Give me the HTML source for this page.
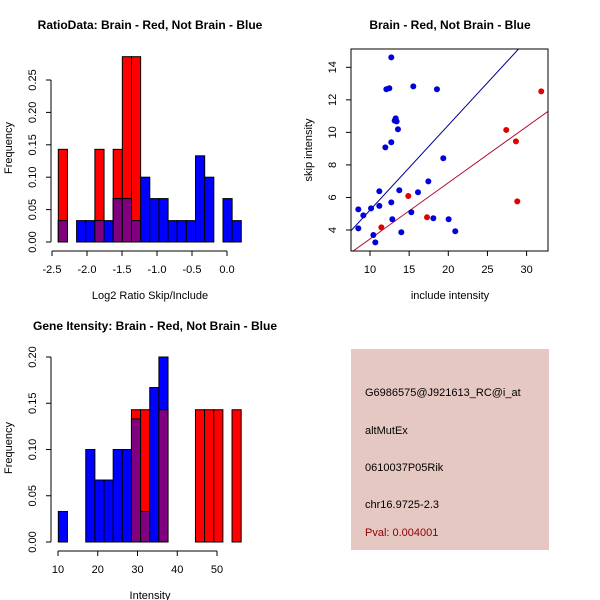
<!DOCTYPE html>
<html><head><meta charset="utf-8"><style>
body{margin:0;background:#fff;}
svg{display:block;font-family:"Liberation Sans",sans-serif;}
</style></head><body>
<svg id="c" width="600" height="600" xmlns="http://www.w3.org/2000/svg">
<rect x="0" y="0" width="600" height="600" fill="#fff"/>
<g>
<rect x="351" y="349" width="198" height="201" fill="#E6C8C2"/>
<text x="365" y="396" font-size="11" fill="#000">G6986575@J921613_RC@i_at</text>
<text x="365" y="434" font-size="11" fill="#000">altMutEx</text>
<text x="365" y="471" font-size="11" fill="#000">0610037P05Rik</text>
<text x="365" y="508" font-size="11" fill="#000">chr16.9725-2.3</text>
<text x="365" y="536" font-size="11" fill="#8B0000">Pval: 0.004001</text>
</g>
</svg>
<script>
// ---- Ratio histogram data ----
const ratioStart = -2.41;
const ratioBinWidth = 0.1307;
const ratioRed = [0.143,0,0,0,0.143,0,0.143,0.286,0.286,0,0,0,0,0,0,0,0,0,0,0];
const ratioBlue = [0.033,0,0.033,0.033,0.033,0.033,0.067,0.067,0.033,0.1,0.067,0.067,0.033,0.033,0.033,0.133,0.1,0,0.067,0.033];
const ratioXTicks = [-2.5,-2.0,-1.5,-1.0,-0.5,0.0];
const ratioXTickLabels = ["-2.5","-2.0","-1.5","-1.0","-0.5","0.0"];
const ratioYTicks = [0,0.05,0.10,0.15,0.20,0.25];
const ratioYTickLabels = ["0.00","0.05","0.10","0.15","0.20","0.25"];
// ---- Intensity histogram data ----
const intStart = 10.08;
const intBinWidth = 2.3;
const intRed = [0,0,0,0,0,0,0,0,0.143,0.143,0,0.143,0,0,0,0.143,0.143,0.143,0,0.143];
const intBlue = [0.033,0,0,0.1,0.067,0.067,0.1,0.1,0.133,0.033,0.167,0.2,0,0,0,0,0,0,0,0];
const intXTicks = [10,20,30,40,50];
const intXTickLabels = ["10","20","30","40","50"];
const intYTicks = [0,0.05,0.10,0.15,0.20];
const intYTickLabels = ["0.00","0.05","0.10","0.15","0.20"];
// ---- Scatter data ----
const blueX = [8.51,8.51,9.15,10.13,10.43,10.68,11.19,11.19,11.96,12.09,12.47,12.72,12.72,12.72,12.85,13.15,13.28,13.40,13.57,13.74,14.0,15.28,15.53,16.13,17.45,18.09,18.55,19.36,20.04,20.89];
const blueY = [5.27,4.10,4.90,5.33,3.69,3.24,6.38,5.48,9.08,12.65,12.71,14.61,9.39,5.70,4.66,10.72,10.86,10.68,10.19,6.44,3.86,5.09,12.83,6.32,6.99,4.72,12.65,8.41,4.66,3.92];
const redX = [11.45,14.89,17.28,27.40,28.64,28.81,31.87];
const redY = [4.16,6.09,4.78,10.15,9.45,5.76,12.52];
const blueSlope = [0.522];
const redSlope = [0.345];
const scXTicks = [10,15,20,25,30];
const scYTicks = [4,6,8,10,12,14];

const NS="http://www.w3.org/2000/svg";
const svg=document.getElementById('c');
function mk(tag,attrs,parent){const e=document.createElementNS(NS,tag);for(const k in attrs)e.setAttribute(k,attrs[k]);(parent||svg).appendChild(e);return e;}
function txt(s,attrs,parent){const e=mk('text',attrs,parent);e.textContent=s;return e;}

function histogram(o){
  const g=mk('g',{});
  
  
  const X=v=>o.x0+(v-o.xv0)*o.xs, Y=v=>o.y0-v*o.ys;
  for(let i=0;i<o.red.length;i++){
    const a=o.start+i*o.bw,b=a+o.bw;
    const r=o.red[i],bl=o.blue[i];
    const ov=Math.min(r,bl);
    if(r>0){const e=mk('rect',{x:X(a),y:Y(r),width:X(b)-X(a),height:Y(0)-Y(r),fill:'#FF0000',stroke:'#000','stroke-width':1},g);
      }
    if(bl>0){const e=mk('rect',{x:X(a),y:Y(bl),width:X(b)-X(a),height:Y(0)-Y(bl),fill:'#0000FF',stroke:'#000','stroke-width':1},g);
      }
    if(ov>0){const e=mk('rect',{x:X(a),y:Y(ov),width:X(b)-X(a),height:Y(0)-Y(ov),fill:'#800080',stroke:'#000','stroke-width':1},g);
      }
  }
  const ax=mk('g',{stroke:'#000',fill:'none'},g);
  
  mk('line',{x1:X(o.xt[0]),x2:X(o.xt[o.xt.length-1]),y1:o.axY,y2:o.axY},ax);
  o.xt.forEach((t,i)=>{mk('line',{x1:X(t),x2:X(t),y1:o.axY,y2:o.axY+5},ax);
    const l=txt(o.xl[i],{x:X(t),y:o.axY+22,'font-size':11,'text-anchor':'middle',fill:'#000',stroke:'none'},g);
    });
  const ay=mk('g',{stroke:'#000',fill:'none'},g);
  
  mk('line',{x1:o.axX,x2:o.axX,y1:Y(o.yt[0]),y2:Y(o.yt[o.yt.length-1])},ay);
  o.yt.forEach((t,i)=>{mk('line',{x1:o.axX,x2:o.axX-5,y1:Y(t),y2:Y(t)},ay);
    const l=txt(o.yl[i],{x:0,y:0,'font-size':11,'text-anchor':'middle',fill:'#000',stroke:'none',transform:`translate(${o.axX-15},${Y(t)}) rotate(-90)`},g);
    });
  const t=txt(o.title,{x:o.tx,y:o.ty,'font-size':12,'font-weight':'bold','text-anchor':'middle',fill:'#000'},g);
  
  const xl=txt(o.xlab,{x:o.lx,y:o.axY+48,'font-size':11,'text-anchor':'middle',fill:'#000'},g);
  
  const yl=txt('Frequency',{x:0,y:0,'font-size':11,'text-anchor':'middle',fill:'#000',transform:`translate(12,${o.ly}) rotate(-90)`},g);
  
}

histogram({name:'ratio-histogram',red:ratioRed,blue:ratioBlue,start:ratioStart,bw:ratioBinWidth,
  x0:52,xv0:-2.5,xs:70,y0:242,ys:648,xt:ratioXTicks,xl:ratioXTickLabels,yt:ratioYTicks,yl:ratioYTickLabels,
  axY:251,axX:51,title:'RatioData: Brain - Red, Not Brain - Blue',tx:150,ty:29,xlab:'Log2 Ratio Skip/Include',lx:150,ly:148});
histogram({name:'intensity-histogram',red:intRed,blue:intBlue,start:intStart,bw:intBinWidth,
  x0:58,xv0:10,xs:3.975,y0:542,ys:925,xt:intXTicks,xl:intXTickLabels,yt:intYTicks,yl:intYTickLabels,
  axY:551,axX:51,title:'Gene Itensity: Brain - Red, Not Brain - Blue',tx:155,ty:330,xlab:'Intensity',lx:150,ly:448});

(function(){
  const g=mk('g',{});
  
  const L=351,R=548,T=49,B=251;
  const X=v=>370+(v-10)*7.83, Y=v=>230-(v-4)*16.27;
  mk('defs',{},g).innerHTML='<clipPath id="cp"><rect x="351" y="49" width="197" height="202"/></clipPath>';
  const lines=mk('g',{'clip-path':'url(#cp)'},g);
  const bl=mk('line',{x1:X(0),y1:Y(0),x2:X(40),y2:Y(40*blueSlope[0]),stroke:'#00008B','stroke-width':1},lines);
  
  const rl=mk('line',{x1:X(0),y1:Y(0),x2:X(40),y2:Y(40*redSlope[0]),stroke:'#B0102A','stroke-width':1},lines);
  
  blueX.forEach((x,i)=>{const c=mk('circle',{cx:X(x),cy:Y(blueY[i]),r:3,fill:'#0000DD'},g);
    });
  redX.forEach((x,i)=>{const c=mk('circle',{cx:X(x),cy:Y(redY[i]),r:3,fill:'#E00000'},g);
    });
  const box=mk('rect',{x:L,y:T,width:R-L,height:B-T,fill:'none',stroke:'#000'},g);
  
  scXTicks.forEach(t=>{mk('line',{x1:X(t),x2:X(t),y1:B,y2:B+5,stroke:'#000'},g);
    const l=txt(String(t),{x:X(t),y:B+22,'font-size':11,'text-anchor':'middle',fill:'#000'},g);
    });
  scYTicks.forEach(t=>{mk('line',{x1:L,x2:L-5,y1:Y(t),y2:Y(t),stroke:'#000'},g);
    const l=txt(String(t),{x:0,y:0,'font-size':11,'text-anchor':'middle',fill:'#000',transform:`translate(${L-15},${Y(t)}) rotate(-90)`},g);
    });
  const t=txt('Brain - Red, Not Brain - Blue',{x:450,y:29,'font-size':12,'font-weight':'bold','text-anchor':'middle',fill:'#000'},g);
  
  const xl=txt('include intensity',{x:450,y:299,'font-size':11,'text-anchor':'middle',fill:'#000'},g);
  
  const yl=txt('skip intensity',{x:0,y:0,'font-size':11,'text-anchor':'middle',fill:'#000',transform:'translate(312,150) rotate(-90)'},g);
  
})();
</script>
</body></html>
